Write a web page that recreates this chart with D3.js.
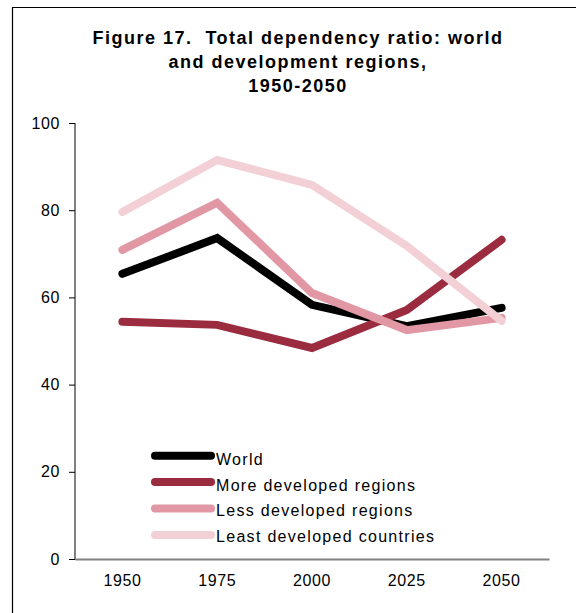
<!DOCTYPE html>
<html>
<head>
<meta charset="utf-8">
<script src="https://cdn.jsdelivr.net/npm/d3@7"></script>
<style>
  body { margin: 0; background: #fff; }
  text { font-family: Arial, "Liberation Sans", sans-serif; fill: #000; }
</style>
</head>
<body>
<svg class="chart"></svg>
<script>
var years = ['1950', '1975', '2000', '2025', '2050']
var world = [65.4, 73.6, 58.3, 53.4, 57.6]
var more_dev = [54.4, 53.7, 48.4, 57.1, 73.2]
var less_dev = [70.9, 81.7, 61.0, 52.5, 55.3]
var least_dev = [79.6, 91.5, 85.8, 71.8, 54.6]
var series_names = ['World', 'More developed regions', 'Less developed regions', 'Least developed countries']
var series_colors = ['#000000', '#9b2b3e', '#e298a4', '#f2d0d6']
var y_ticks = [0, 20, 40, 60, 80, 100]
var title_lines = ['Figure 17.  Total dependency ratio: world', 'and development regions,', '1950-2050']

var width = 576,
    height = 613

var svg = d3.select(".chart")
    .attr("width", width)
    .attr("height", height)

// frame (top + left only)
svg.append('path')
    .attr('d', 'M12.5,613 V7.5 H576')
    .attr('fill', 'none')
    .attr('stroke', '#000')
    .attr('stroke-width', 1.2)

svg.selectAll('.title')
    .data(title_lines)
    .enter().append('text')
    .attr('class', 'title')
    .attr('x', 298)
    .attr('y', (d, i) => 44 + i * 24)
    .attr('text-anchor', 'middle')
    .style('font-size', '18px')
    .style('font-weight', 'bold')
    .style('letter-spacing', '1.5px')
    .style('white-space', 'pre')
    .text(d => d)

var x = d3.scaleBand().domain(years).range([75, 549])
var y = d3.scaleLinear().domain([0, 100]).range([559, 123])

// y axis
var y_axis = svg.append('g')
    .attr('transform', 'translate(75,0)')
    .call(d3.axisLeft(y).tickValues(y_ticks).tickSize(6).tickPadding(9))
y_axis.select('.domain').attr('stroke', '#808080').attr('stroke-width', 2).attr('d', 'M0,123 V560')
y_axis.selectAll('.tick line').attr('stroke', '#000')
y_axis.selectAll('.tick text')
    .style('font-size', '16px')
    .style('letter-spacing', '0.6px')
    .style('font-family', 'Arial, "Liberation Sans", sans-serif')
    .attr('fill', '#000')

// x axis
var x_axis = svg.append('g')
    .attr('transform', 'translate(0,559)')
    .call(d3.axisBottom(x).tickSize(0).tickPadding(16))
x_axis.select('.domain').attr('stroke', '#808080').attr('stroke-width', 2)
x_axis.selectAll('.tick text')
    .style('font-size', '16px')
    .style('letter-spacing', '0.6px')
    .style('font-family', 'Arial, "Liberation Sans", sans-serif')
    .attr('fill', '#000')

var all_series = [world, more_dev, less_dev, least_dev]

var line = d3.line()
    .x((d, i) => x(years[i]) + x.bandwidth() / 2)
    .y(d => y(d))

svg.selectAll('.series')
    .data(all_series)
    .enter().append('path')
    .attr('class', 'series')
    .attr('d', d => line(d))
    .attr('fill', 'none')
    .attr('stroke', (d, i) => series_colors[i])
    .attr('stroke-width', 8)
    .attr('stroke-linecap', 'round')
    .attr('stroke-linejoin', 'miter')

// legend
var legend = svg.selectAll('.legend')
    .data(series_names)
    .enter().append('g')
    .attr('class', 'legend')

legend.append('line')
    .attr('x1', 155).attr('x2', 211)
    .attr('y1', (d, i) => 455.7 + i * 26.4)
    .attr('y2', (d, i) => 455.7 + i * 26.4)
    .attr('stroke', (d, i) => series_colors[i])
    .attr('stroke-width', 8)
    .attr('stroke-linecap', 'round')

legend.append('text')
    .attr('x', 216)
    .attr('y', (d, i) => 465 + i * 25.6)
    .style('font-size', '16px')
    .style('letter-spacing', '1.3px')
    .text(d => d)
</script>
</body>
</html>
